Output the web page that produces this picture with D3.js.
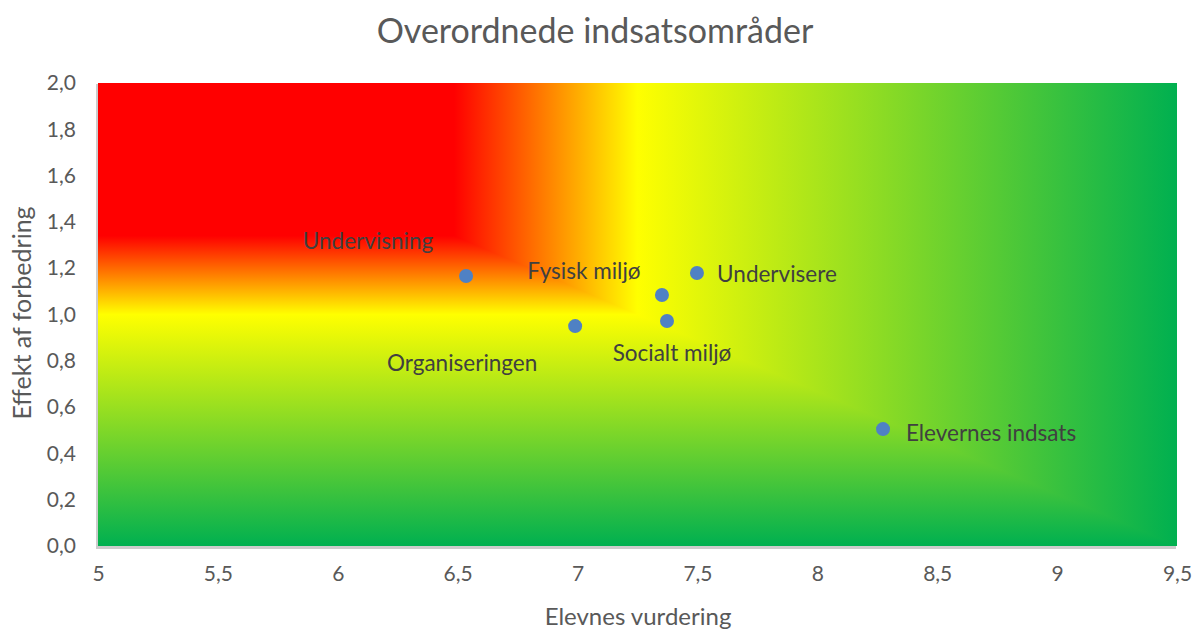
<!DOCTYPE html>
<html>
<head>
<meta charset="utf-8">
<script src="https://cdn.jsdelivr.net/npm/d3@7"></script>
<style>
  html, body { margin: 0; padding: 0; background: #ffffff; }
  svg { display: block; }
  text { font-family: Lato, "Open Sans", sans-serif; }
</style>
</head>
<body>
<svg id="chart" width="1194" height="630"></svg>
<script>
// ---- data ----
const names = ["Undervisning", "Organiseringen", "Fysisk miljø", "Socialt miljø", "Undervisere", "Elevernes indsats"];
const xValues = [6.535, 6.99, 7.352, 7.373, 7.498, 8.274];
const yValues = [1.166, 0.950, 1.084, 0.972, 1.179, 0.505];
const xTicks = [5, 5.5, 6, 6.5, 7, 7.5, 8, 8.5, 9, 9.5];
const yTicks = [0, 0.2, 0.4, 0.6, 0.8, 1.0, 1.2, 1.4, 1.6, 1.8, 2.0];
// label offsets (px) relative to each point
const labelDx = [-98, -113, -78, 5, 80, 108];
const labelDy = [-36, 36, -25, 32, 0, 3];

const title = "Overordnede indsatsområder";
const xTitle = "Elevnes vurdering";
const yTitle = "Effekt af forbedring";

// ---- layout ----
const svg = d3.select("#chart");
const pLeft = 98, pRight = 1177, pTop = 83, pBottom = 546;
const x = d3.scaleLinear().domain([5, 9.5]).range([pLeft, pRight]);
const y = d3.scaleLinear().domain([0, 2]).range([pBottom, pTop]);
const loc = d3.formatLocale({decimal: ",", thousands: ".", grouping: [3], currency: ["", ""]});
const fx = v => Number.isInteger(v) ? String(v) : loc.format(".1f")(v);
const fy = loc.format(".1f");

const defs = svg.append("defs");
const stops = [
  {o: 0, c: "#00b050"},
  {o: 0.5, c: "#ffff00"},
  {o: 0.67, c: "#ff0000"},
  {o: 1, c: "#ff0000"}
];
// horizontal gradient: t = (9.5 - x)/4.5 → left is red, right green
const gH = defs.append("linearGradient").attr("id", "gH")
  .attr("gradientUnits", "userSpaceOnUse")
  .attr("x1", x(9.5)).attr("y1", 0).attr("x2", x(5)).attr("y2", 0);
gH.selectAll("stop").data(stops).join("stop")
  .attr("offset", d => d.o).attr("stop-color", d => d.c);
// vertical gradient: t = y/2
const gV = defs.append("linearGradient").attr("id", "gV")
  .attr("gradientUnits", "userSpaceOnUse")
  .attr("x1", 0).attr("y1", y(0)).attr("x2", 0).attr("y2", y(2));
gV.selectAll("stop").data(stops).join("stop")
  .attr("offset", d => d.o).attr("stop-color", d => d.c);

// shadow
svg.append("rect")
  .attr("x", pLeft - 2).attr("y", pTop + 1)
  .attr("width", pRight - pLeft + 1).attr("height", pBottom - pTop + 2)
  .attr("fill", "#cccccc");

// full plot rect with vertical gradient, upper-right triangle with horizontal gradient on top
svg.append("rect")
  .attr("x", x(5)).attr("y", y(2))
  .attr("width", x(9.5) - x(5)).attr("height", y(0) - y(2))
  .attr("fill", "url(#gV)");
svg.append("path")
  .attr("d", `M${x(5)},${y(2)} L${x(9.5)},${y(2)} L${x(9.5)},${y(0)} Z`)
  .attr("fill", "url(#gH)");

// axes
const yAxis = svg.append("g").attr("transform", `translate(${pLeft - 22},0)`)
  .call(d3.axisLeft(y).tickValues(yTicks).tickFormat(fy).tickSize(0).tickPadding(0));
yAxis.select(".domain").remove();
yAxis.selectAll("text").attr("font-size", 21).attr("fill", "#595959")
  .style("font-family", "Lato, sans-serif");

const xAxis = svg.append("g").attr("transform", `translate(0,${pBottom + 20})`)
  .call(d3.axisBottom(x).tickValues(xTicks).tickFormat(fx).tickSize(0).tickPadding(0));
xAxis.select(".domain").remove();
xAxis.selectAll("text").attr("font-size", 21).attr("fill", "#595959")
  .style("font-family", "Lato, sans-serif");

// titles
svg.append("text").attr("x", 595).attr("y", 29)
  .attr("text-anchor", "middle").attr("dominant-baseline", "central")
  .attr("font-size", 34).attr("fill", "#595959").text(title);
svg.append("text").attr("x", 638).attr("y", 615)
  .attr("text-anchor", "middle").attr("dominant-baseline", "central")
  .attr("font-size", 24).attr("fill", "#595959").text(xTitle);
svg.append("text")
  .attr("transform", `translate(21,${313}) rotate(-90)`)
  .attr("text-anchor", "middle").attr("dominant-baseline", "central")
  .attr("font-size", 25).attr("fill", "#595959").text(yTitle);

// points
const idx = d3.range(names.length);
svg.append("g").selectAll("circle").data(idx).join("circle")
  .attr("cx", i => x(xValues[i])).attr("cy", i => y(yValues[i]))
  .attr("r", 7).attr("fill", "#4f81c4");

svg.append("g").selectAll("text").data(idx).join("text")
  .attr("x", i => x(xValues[i]) + labelDx[i])
  .attr("y", i => y(yValues[i]) + labelDy[i])
  .attr("text-anchor", "middle").attr("dominant-baseline", "central")
  .attr("font-size", 22.5).attr("fill", "#404040")
  .text(i => names[i]);
</script>
</body>
</html>
